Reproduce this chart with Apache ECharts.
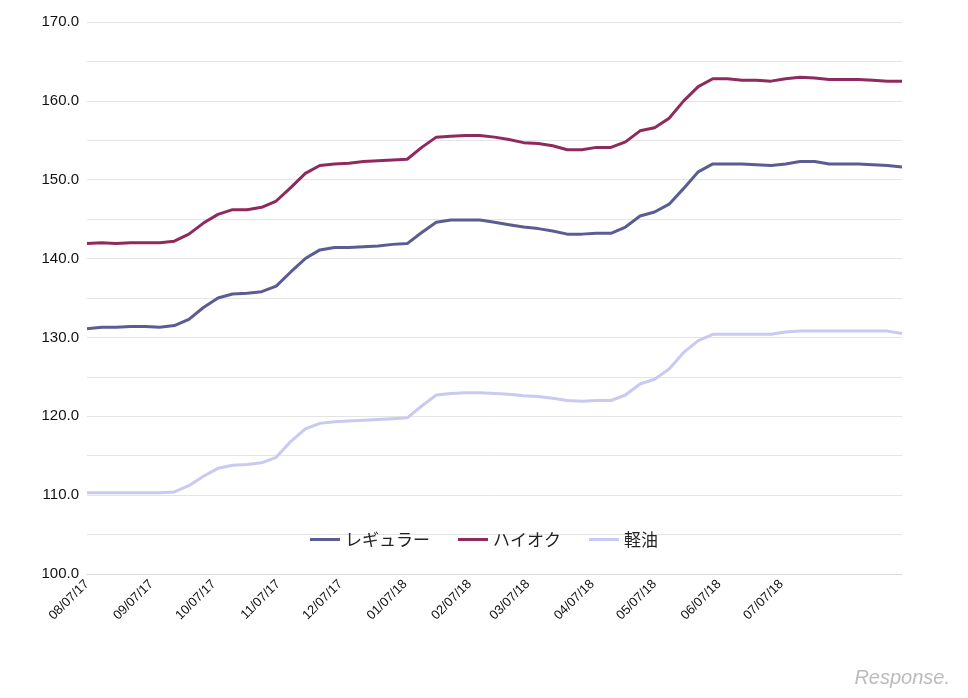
<!DOCTYPE html>
<html><head><meta charset="utf-8">
<script src="https://cdn.jsdelivr.net/npm/echarts@6/dist/echarts.min.js"></script>
<style>html,body{margin:0;padding:0;background:#fff}#c{width:968px;height:698px}</style>
</head><body><div id="c"></div>
<script>
const startDate = '2017-08-07';
const weekCount = 57;
const tickLabels = ['08/07/17','09/07/17','10/07/17','11/07/17','12/07/17','01/07/18','02/07/18','03/07/18','04/07/18','05/07/18','06/07/18','07/07/18','08/07/18'];
const seriesNames = ['レギュラー','ハイオク','軽油'];
const regular = [131.1,131.3,131.3,131.4,131.4,131.3,131.5,132.3,133.8,135.0,135.5,135.6,135.8,136.5,138.3,140.0,141.1,141.4,141.4,141.5,141.6,141.8,141.9,143.3,144.6,144.9,144.9,144.9,144.6,144.3,144.0,143.8,143.5,143.1,143.1,143.2,143.2,144.0,145.4,145.9,146.9,148.9,151.0,152.0,152.0,152.0,151.9,151.8,152.0,152.3,152.3,152.0,152.0,152.0,151.9,151.8,151.6];
const highOctane = [141.9,142.0,141.9,142.0,142.0,142.0,142.2,143.1,144.5,145.6,146.2,146.2,146.5,147.3,149.0,150.8,151.8,152.0,152.1,152.3,152.4,152.5,152.6,154.1,155.4,155.5,155.6,155.6,155.4,155.1,154.7,154.6,154.3,153.8,153.8,154.1,154.1,154.8,156.2,156.6,157.8,160.0,161.8,162.8,162.8,162.6,162.6,162.5,162.8,163.0,162.9,162.7,162.7,162.7,162.6,162.5,162.5];
const diesel = [110.3,110.3,110.3,110.3,110.3,110.3,110.4,111.2,112.4,113.4,113.8,113.9,114.1,114.8,116.8,118.4,119.1,119.3,119.4,119.5,119.6,119.7,119.8,121.3,122.7,122.9,123.0,123.0,122.9,122.8,122.6,122.5,122.3,122.0,121.9,122.0,122.0,122.7,124.1,124.7,126.0,128.1,129.6,130.4,130.4,130.4,130.4,130.4,130.7,130.8,130.8,130.8,130.8,130.8,130.8,130.8,130.5];

const t0 = Date.parse(startDate + 'T00:00:00Z');
const dates = [];
for (let i = 0; i < weekCount; i++) dates.push(t0 + i * 7 * 86400000);
function parseLabel(s){const [m,d,y]=s.split('/');return Date.UTC(2000+ +y, +m-1, +d);}
const tickVals = tickLabels.map(parseLabel);
function fmt(v){const d=new Date(v);const p=n=>String(n).padStart(2,'0');return p(d.getUTCMonth()+1)+'/'+p(d.getUTCDate())+'/'+p(d.getUTCFullYear()%100);}
const colors = ['#5c5c94','#8e2a5e','#c9c9f2'];
const vals = [regular, highOctane, diesel];

const chart = echarts.init(document.getElementById('c'), null, {renderer:'canvas'});
chart.setOption({
  animation:false,
  grid:{left:87,right:66,top:22,bottom:124,containLabel:false},
  legend:{top:526,left:'center',itemWidth:30,itemHeight:3,itemGap:28,icon:'rect',
    textStyle:{fontSize:17,color:'#222',fontFamily:'Noto Sans CJK JP'},data:seriesNames},
  xAxis:{type:'value',min:dates[0],max:dates[dates.length-1],
    axisLine:{show:true,lineStyle:{color:'#d9d9d9'}},
    axisTick:{show:false,customValues:tickVals},
    splitLine:{show:false},
    axisLabel:{customValues:tickVals,rotate:45,fontSize:13,color:'#111',formatter:v=>fmt(v),margin:8,fontFamily:'Liberation Sans',showMinLabel:true,showMaxLabel:false}},
  yAxis:{type:'value',min:100,max:170,interval:5,
    axisLine:{show:false},axisTick:{show:false},
    splitLine:{lineStyle:{color:'#e4e4e4'}},
    axisLabel:{fontSize:15,color:'#111',fontFamily:'Liberation Sans',formatter:v=>v%10===0?v.toFixed(1):''}},
  series:seriesNames.map((n,k)=>({name:n,type:'line',showSymbol:false,
    lineStyle:{width:3,color:colors[k]},itemStyle:{color:colors[k]},
    data:dates.map((d,i)=>[d,vals[k][i]])})),
  graphic:[{type:'text',right:18,bottom:10,style:{text:'Response.',fontSize:20,fontStyle:'italic',fill:'#bbb',fontFamily:'Liberation Sans'}}]
});
</script></body></html>
